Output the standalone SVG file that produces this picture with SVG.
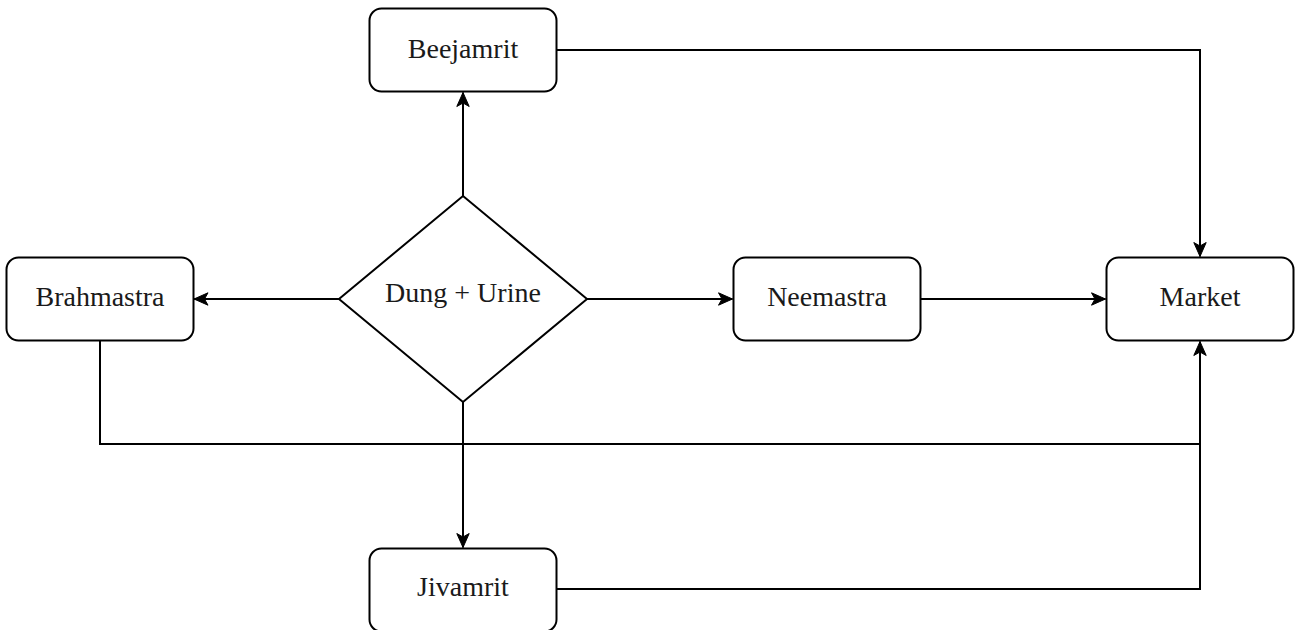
<svg xmlns="http://www.w3.org/2000/svg" width="1296" height="630" viewBox="0 0 1296 630">
<style>
.box{fill:#fff;stroke:#000;stroke-width:2}
.lbl{font-family:"Liberation Serif","Times New Roman",serif;font-size:28px;fill:#1a1a1a;text-anchor:middle}
.edge{fill:none;stroke:#000;stroke-width:2}
</style>
<defs>
<marker id="arr" markerUnits="userSpaceOnUse" markerWidth="16" markerHeight="16" viewBox="0 0 16 16" refX="15" refY="8" orient="auto">
<path d="M1,1.8 L15,8 L1,14.2 L4.5,8 Z" fill="#000" stroke="#000" stroke-width="1"/>
</marker>
</defs>
<rect width="1296" height="630" fill="#fff"/>
<g id="connectors">
<path class="edge" d="M463,196 L463,92.5" marker-end="url(#arr)"/>
<path class="edge" d="M339,299 L194,299" marker-end="url(#arr)"/>
<path class="edge" d="M587,299 L732.5,299" marker-end="url(#arr)"/>
<path class="edge" d="M463,402 L463,547.5" marker-end="url(#arr)"/>
<path class="edge" d="M556.5,50 L1200,50 L1200,256.5" marker-end="url(#arr)"/>
<path class="edge" d="M920.5,299 L1105.5,299" marker-end="url(#arr)"/>
<path class="edge" d="M100,340.5 L100,444 L1200,444 L1200,341.5" marker-end="url(#arr)"/>
<path class="edge" d="M556.5,589 L1200,589 L1200,444"/>
</g>
<g id="beejamrit">
<rect class="box" x="369.5" y="8.5" width="187" height="83" rx="12"/>
<text class="lbl" x="463" y="57.5">Beejamrit</text>
</g>
<g id="brahmastra">
<rect class="box" x="6.5" y="257.5" width="187" height="83" rx="12"/>
<text class="lbl" x="100" y="306">Brahmastra</text>
</g>
<g id="dung-urine">
<path class="box" d="M463,196 L587,299 L463,402 L339,299 Z"/>
<text class="lbl" x="463" y="302">Dung + Urine</text>
</g>
<g id="neemastra">
<rect class="box" x="733.5" y="257.5" width="187" height="83" rx="12"/>
<text class="lbl" x="827" y="306">Neemastra</text>
</g>
<g id="market">
<rect class="box" x="1106.5" y="257.5" width="187" height="83" rx="12"/>
<text class="lbl" x="1200" y="306">Market</text>
</g>
<g id="jivamrit">
<rect class="box" x="369.5" y="548.5" width="187" height="83" rx="12"/>
<text class="lbl" x="463" y="596">Jivamrit</text>
</g>
</svg>
